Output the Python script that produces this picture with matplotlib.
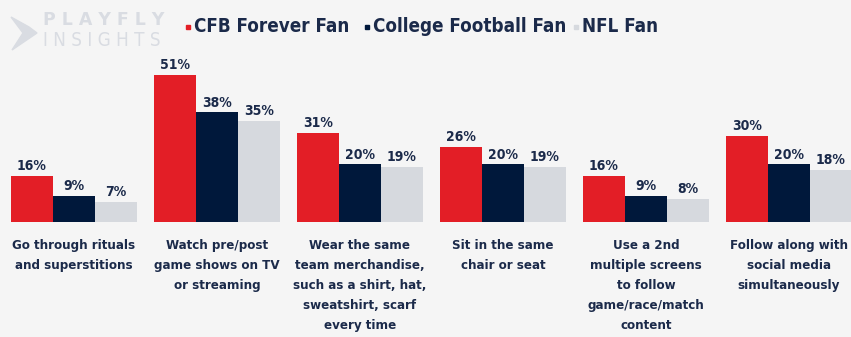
import matplotlib
matplotlib.use("Agg")
import matplotlib.pyplot as plt
import numpy as np
from matplotlib.patches import Rectangle, Polygon

categories = [
    "Go through rituals\nand superstitions",
    "Watch pre/post\ngame shows on TV\nor streaming",
    "Wear the same\nteam merchandise,\nsuch as a shirt, hat,\nsweatshirt, scarf\nevery time",
    "Sit in the same\nchair or seat",
    "Use a 2nd\nmultiple screens\nto follow\ngame/race/match\ncontent",
    "Follow along with\nsocial media\nsimultaneously",
]
series_names = ["CFB Forever Fan", "College Football Fan", "NFL Fan"]
cfb_forever = [16, 51, 31, 26, 16, 30]
college_fb = [9, 38, 20, 20, 9, 20]
nfl_fan = [7, 35, 19, 19, 8, 18]

colors = ["#e31e26", "#00183b", "#d6d9de"]
text_color = "#1b2a4a"
bg = "#f5f5f5"

W, H = 851, 337
fig = plt.figure(figsize=(W / 100, H / 100), dpi=100, facecolor=bg)

font = dict(family=["DejaVu Sans"], fontstretch="condensed", fontweight="bold")

ax = fig.add_axes([0, 1 - 222 / H, 1, (222 - 49) / H])
ax.set_facecolor(bg)
for s in ax.spines.values():
    s.set_visible(False)
ax.set_xticks([])
ax.set_yticks([])

x = np.arange(len(categories))
bw = 42 / 143
ax.set_xlim(-0.44 - 11 / 143, -0.44 - 11 / 143 + W / 143)
ax.set_ylim(0, 60)

for i, (vals, c) in enumerate(zip([cfb_forever, college_fb, nfl_fan], colors)):
    pos = x + (i - 1) * bw
    ax.bar(pos, vals, width=bw, color=c, linewidth=0)
    for p, v in zip(pos, vals):
        ax.annotate(f"{v}%", (p, v), xytext=(0, 2), textcoords="offset points",
                    ha="center", va="bottom", fontsize=10, color=text_color, **font)

for xi, lab in zip(x, categories):
    ax.annotate(lab, (xi, 0), xytext=(0, -12), textcoords="offset points",
                ha="center", va="top", fontsize=9.5, color=text_color,
                linespacing=1.72, annotation_clip=False, **font)

# Legend row
leg_items = [(186, series_names[0]), (365, series_names[1]), (574, series_names[2])]
for (px, name), c in zip(leg_items, colors):
    fig.patches.append(Rectangle((px / W, 1 - 29 / H), 4 / W, 4 / H,
                                 transform=fig.transFigure, color=c))
    fig.text((px + 8) / W, 1 - 27 / H, name, ha="left", va="center",
             fontsize=13.5, color=text_color, **font)

# Brand mark
logo_c = "#d9dce2"
fig.patches.append(Polygon([(11 / W, 1 - 17 / H), (29 / W, 1 - 27 / H), (37 / W, 1 - 33 / H),
                            (12 / W, 1 - 50 / H), (23 / W, 1 - 33 / H)],
                           closed=True, transform=fig.transFigure, color=logo_c))
fig.text(43 / W, 1 - 20 / H, "P L A Y F L Y", ha="left", va="center",
         fontsize=12.5, color=logo_c, family="DejaVu Sans", fontweight="bold")
fig.text(43 / W, 1 - 41 / H, "I N S I G H T S", ha="left", va="center",
         fontsize=13.5, color=logo_c, family="DejaVu Sans", fontweight="light",
         fontstretch="condensed")

fig.savefig("out.png", dpi=100, facecolor=bg)
